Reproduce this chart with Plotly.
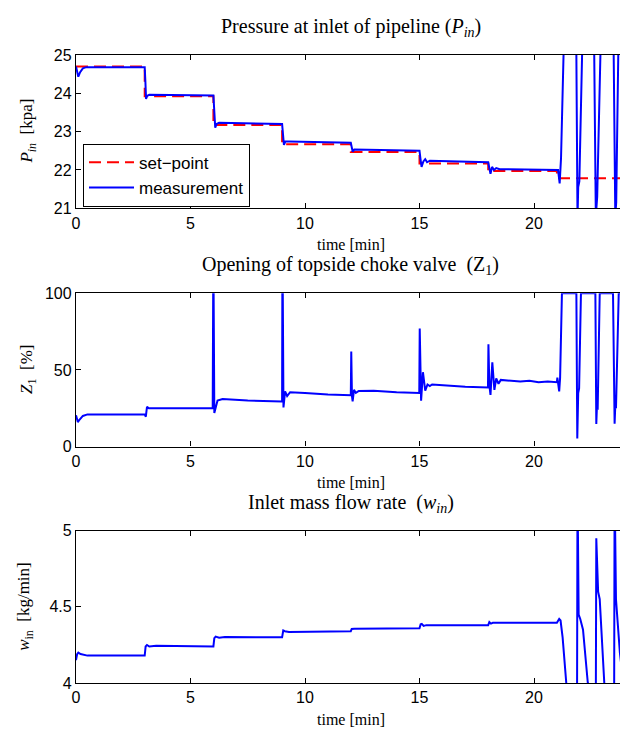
import plotly.graph_objects as go

# ---------------- data ----------------
# Pressure set-point (piecewise constant, held until the next entry)
t_sp = [0, 3, 6, 9, 12, 15, 18, 21, 24]
p_sp = [24.70, 23.92, 23.17, 22.67, 22.47, 22.17, 21.97, 21.78, 21.78]

# Measured inlet pressure [kPa]
t_p = [0.00, 0.05, 0.10, 0.18, 0.30, 0.45, 3.00, 3.03, 3.06, 3.10, 3.20,
       6.00, 6.03, 6.08, 6.14, 6.25, 9.00, 9.03, 9.08, 9.14, 9.30,
       12.00, 12.04, 12.08, 12.15, 15.00, 15.04, 15.09, 15.17, 15.25, 15.33, 15.45,
       18.00, 18.05, 18.10, 18.17, 18.25, 18.35, 18.50, 21.05, 21.08, 21.12, 21.18,
       21.29, 21.57, 21.85, 21.90, 21.93, 21.98, 22.10, 22.37, 22.63, 22.70, 22.76,
       22.90, 23.19, 23.48, 23.55, 23.59, 23.68, 23.90]
p_meas = [24.70, 24.50, 24.43, 24.55, 24.65, 24.68, 24.68, 24.30, 23.85, 23.93, 23.96,
          23.94, 23.60, 23.10, 23.20, 23.23, 23.20, 22.90, 22.65, 22.74, 22.74,
          22.71, 22.55, 22.48, 22.53, 22.50, 22.30, 22.08, 22.22, 22.28, 22.20, 22.24,
          22.20, 22.00, 21.90, 22.08, 22.00, 22.05, 22.02, 22.00, 21.80, 21.65, 22.30,
          25.00, 27.50, 25.00, 20.70, 21.55, 21.70, 25.00, 27.50, 25.00, 20.80, 21.30,
          25.00, 27.50, 25.00, 20.80, 21.15, 25.00, 27.50]

# Topside choke valve opening [%]
t_z = [0.00, 0.04, 0.08, 0.15, 0.30, 0.50, 3.00, 3.05, 3.10, 3.18,
       5.97, 5.99, 6.01, 6.04, 6.10, 6.18, 6.40, 7.50, 8.99,
       9.00, 9.01, 9.03, 9.06, 9.13, 9.22, 9.35, 10.00, 11.00, 12.00,
       12.02, 12.05, 12.08, 12.14, 12.22, 12.35, 13.00, 14.00, 14.99,
       15.01, 15.04, 15.07, 15.15, 15.25, 15.35, 15.45, 15.55, 16.00, 17.00, 17.99,
       18.01, 18.05, 18.10, 18.18, 18.27, 18.35, 18.45, 18.55, 19.00, 19.40, 19.80,
       20.20, 20.60, 21.00, 21.02, 21.06, 21.10, 21.14, 21.22, 21.85, 21.89, 21.93,
       21.97, 22.05, 22.68, 22.72, 22.75, 22.78, 22.87, 23.45, 23.52, 23.55, 23.58,
       23.70, 23.90]
z_val = [20.5, 18.0, 16.0, 17.5, 20.0, 21.0, 21.0, 19.5, 26.0, 25.0,
         25.0, 100.0, 100.0, 22.0, 26.0, 30.0, 31.0, 30.0, 29.5,
         29.5, 100.0, 100.0, 25.5, 36.0, 33.0, 35.5, 35.0, 34.0, 33.5,
         62.0, 33.0, 29.5, 37.0, 35.0, 36.3, 36.5, 35.5, 35.0,
         77.0, 40.0, 30.0, 48.5, 36.5, 40.5, 39.5, 40.5, 40.0, 39.0, 38.5,
         66.7, 40.0, 33.7, 55.0, 37.0, 44.5, 41.0, 43.5, 43.0, 42.5, 43.0,
         42.0, 42.5, 42.0, 45.0, 38.0, 36.0, 45.0, 100.0, 100.0, 5.3, 35.0,
         38.0, 100.0, 100.0, 14.8, 27.0, 24.0, 100.0, 100.0, 15.0, 27.0, 25.0,
         100.0, 100.0]

# Inlet mass flow rate [kg/min]
t_w = [0.00, 0.05, 0.10, 0.20, 0.50, 3.00, 3.04, 3.10, 3.20, 3.50,
       6.00, 6.04, 6.10, 6.25, 6.50, 9.00, 9.05, 9.12, 9.30,
       12.00, 12.04, 12.15, 15.00, 15.05, 15.10, 15.18, 15.30,
       18.00, 18.05, 18.12, 18.20, 21.00, 21.10, 21.16, 21.25, 21.35, 21.42,
       21.60, 21.88, 21.90, 21.95, 22.02, 22.14, 22.35, 22.50, 22.70, 22.72,
       22.80, 22.87, 23.07, 23.30, 23.50, 23.52, 23.58, 23.75, 23.90]
w_val = [4.15, 4.19, 4.20, 4.19, 4.18, 4.18, 4.24, 4.25, 4.24, 4.245,
         4.24, 4.295, 4.305, 4.298, 4.302, 4.30, 4.345, 4.34, 4.335,
         4.34, 4.355, 4.357, 4.36, 4.385, 4.388, 4.375, 4.38,
         4.38, 4.40, 4.39, 4.395, 4.395, 4.42, 4.41, 4.30, 4.10, 3.98,
         3.90, 3.90, 5.30, 4.45, 4.42, 4.35, 4.00, 3.90, 3.90, 4.95,
         4.60, 4.55, 4.00, 3.90, 3.90, 5.30, 4.55, 4.20, 4.00]

x_ticks = [0, 5, 10, 15, 20]

# ---------------- layout helpers ----------------
W, H = 620, 736
L = 76                      # left margin in px
X_MAX = (W - L) / 22.9      # visible time span [min]


def py(y_px):
    """Vertical pixel position -> paper fraction."""
    return 1 - y_px / H


def px(x_px):
    """Horizontal pixel position -> paper fraction of the plot area."""
    return (x_px - L) / (W - L)


BLUE = "#0000ff"
RED = "#ff0000"
SANS = "Liberation Sans, Arial"
SERIF = "Liberation Serif, Times New Roman"
TICK_FONT = dict(family=SANS, size=16, color="black")

fig = go.Figure()

fig.add_trace(go.Scatter(x=t_sp, y=p_sp, mode="lines", line_shape="hv",
                         name="set\u2212point",
                         line=dict(color=RED, width=2, dash="12px,6px"),
                         xaxis="x", yaxis="y"))
fig.add_trace(go.Scatter(x=t_p, y=p_meas, mode="lines", name="measurement",
                         line=dict(color=BLUE, width=2),
                         xaxis="x", yaxis="y"))
fig.add_trace(go.Scatter(x=t_z, y=z_val, mode="lines", showlegend=False,
                         line=dict(color=BLUE, width=2),
                         xaxis="x2", yaxis="y2"))
fig.add_trace(go.Scatter(x=t_w, y=w_val, mode="lines", showlegend=False,
                         line=dict(color=BLUE, width=2),
                         xaxis="x3", yaxis="y3"))

xcommon = dict(range=[0, X_MAX], domain=[0, 1], tickvals=x_ticks,
               ticks="inside", ticklen=5, tickcolor="black", tickwidth=1,
               showline=True, linecolor="black", linewidth=1.3, mirror="ticks",
               showgrid=False, zeroline=False, tickfont=TICK_FONT)
ycommon = dict(ticks="inside", ticklen=5, tickcolor="black", tickwidth=1,
               showline=True, linecolor="black", linewidth=1.3, mirror=False,
               showgrid=False, zeroline=False, tickfont=TICK_FONT)

# plot-area extents in px (top, bottom)
boxes = [(48, 205), (292, 449), (535, 691)]

fig.update_layout(
    width=W, height=H,
    margin=dict(l=L, r=0, t=0, b=0),
    paper_bgcolor="white", plot_bgcolor="white",
    xaxis=dict(xcommon, anchor="y"),
    xaxis2=dict(xcommon, anchor="y2", layer="below traces"),
    xaxis3=dict(xcommon, anchor="y3"),
    yaxis=dict(ycommon, range=[21, 25], tickvals=[21, 22, 23, 24, 25],
               domain=[py(boxes[0][1]), py(boxes[0][0])], anchor="x"),
    yaxis2=dict(ycommon, range=[0, 100], tickvals=[0, 50, 100],
                domain=[py(boxes[1][1]), py(boxes[1][0])], anchor="x2",
                layer="below traces"),
    yaxis3=dict(ycommon, range=[4, 5], tickvals=[4, 4.5, 5],
                domain=[py(boxes[2][1]), py(boxes[2][0])], anchor="x3"),
    showlegend=True,
    legend=dict(x=px(83), y=py(139), xanchor="left", yanchor="top",
                bgcolor="white", bordercolor="black", borderwidth=1,
                font=dict(family=SANS, size=17, color="black"),
                tracegroupgap=0, itemwidth=45),
)

titles = [
    "Pressure at inlet of pipeline (<i>P</i><sub><i>in</i></sub>)",
    "Opening of topside choke valve  (Z<sub>1</sub>)",
    "Inlet mass flow rate  (<i>w</i><sub><i>in</i></sub>)",
]
ylabels = [
    "<i>P</i><sub><i>in</i></sub>  [kpa]",
    "<i>Z</i><sub>1</sub>  [%]",
    "<i>w</i><sub>in</sub>  [kg/min]",
]
xrefs = ["x", "x2", "x3"]
ylabel_x = [28, 28, 25]

for i, (top, bot) in enumerate(boxes):
    fig.add_annotation(text=titles[i], xref=xrefs[i], x=12, yref="paper",
                       y=py(top - 28), xanchor="center", yanchor="middle",
                       showarrow=False,
                       font=dict(family=SERIF, size=20, color="black"))
    fig.add_annotation(text="time [min]", xref=xrefs[i], x=12, yref="paper",
                       y=py(bot + 37), xanchor="center", yanchor="middle",
                       showarrow=False,
                       font=dict(family=SERIF, size=16, color="black"))
    fig.add_annotation(text=ylabels[i], xref="paper", x=px(ylabel_x[i]),
                       yref="paper", y=py((top + bot) / 2), textangle=-90,
                       xanchor="center", yanchor="middle", showarrow=False,
                       font=dict(family=SERIF, size=17, color="black"))

fig.write_html("out.html")
